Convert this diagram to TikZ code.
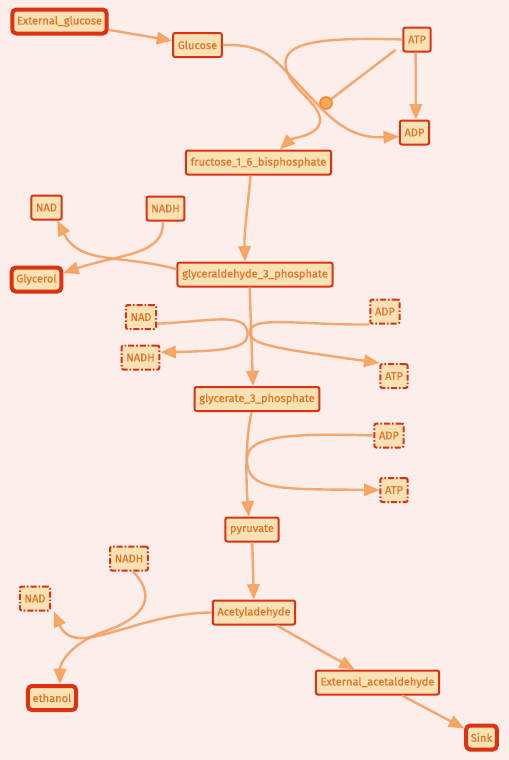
\documentclass[tikz,border=0pt]{standalone}
\usepackage{fontspec}
\setmainfont{Fira Sans}
\newfontfamily\nodefont{Fira Sans}[FakeBold=0.6]
\usetikzlibrary{arrows.meta}
\definecolor{bgcol}{HTML}{FCEEEB}
\definecolor{nodefill}{HTML}{FAE2B5}
\definecolor{bordercol}{HTML}{DC3212}
\definecolor{textcol}{HTML}{DF7428}
\definecolor{edgecol}{HTML}{F5A062}
\definecolor{tipfill}{HTML}{F8A860}
\definecolor{tipdraw}{HTML}{F08A30}
\tikzset{
  species/.style={draw=bordercol, fill=nodefill, text=textcol, font=\nodefont\fontsize{8.3}{9}\selectfont,
    rounded corners=1.5pt, line width=1.5pt, minimum height=18pt, inner xsep=3.5pt, inner ysep=2pt},
  bigbox/.style={species, line width=3pt, rounded corners=3pt},
  dashbox/.style={species, dash pattern=on 4.5pt off 1.5pt on 1.2pt off 1.5pt},
  flow/.style={draw=edgecol, line width=1.8pt, draw opacity=0.9,
    -{Triangle[length=11.5pt,width=9.5pt,fill=tipfill,line width=1pt]}},
  plain/.style={draw=edgecol, line width=1.8pt, draw opacity=0.9},
  rxn/.style={circle, draw=tipdraw, fill=tipfill, line width=1.2pt, minimum size=9pt, inner sep=0pt}
}
\begin{document}
\begin{tikzpicture}[x=0.75pt,y=-0.75pt]
\fill[bgcol] (0,0) rectangle (509,760);
\useasboundingbox (0,0) rectangle (509,760);

% nodes
\node[bigbox] (extg) at (59.5,21.5) {External\_glucose};
\node[species] (glc) at (197.5,45) {Glucose};
\node[species] (atpa) at (417,39.5) {ATP};
\node[species] (adpa) at (414.5,132.5) {ADP};
\node[species] (fru) at (258.5,162.5) {fructose\_1\_6\_bisphosphate};
\node[species] (nada) at (46.5,207.5) {NAD};
\node[species] (nadha) at (165.5,208.5) {NADH};
\node[bigbox] (glyc) at (36.5,279.5) {Glycerol};
\node[species] (gap) at (255,274.5) {glyceraldehyde\_3\_phosphate};
\node[dashbox] (nadb) at (141,317) {NAD};
\node[dashbox] (adpb) at (385,311.5) {ADP};
\node[dashbox] (nadhb) at (140.5,357.5) {NADH};
\node[dashbox] (atpb) at (394,376) {ATP};
\node[species] (g3p) at (257,399) {glycerate\_3\_phosphate};
\node[dashbox] (adpc) at (389,435.5) {ADP};
\node[dashbox] (atpc) at (394,490) {ATP};
\node[species] (pyr) at (252,529.5) {pyruvate};
\node[dashbox] (nadhc) at (129,558.5) {NADH};
\node[dashbox] (nadc) at (35,598.5) {NAD};
\node[species] (acet) at (254,612.5) {Acetyladehyde};
\node[bigbox] (eth) at (52,698) {ethanol};
\node[species] (exta) at (377.5,682.5) {External\_acetaldehyde};
\node[bigbox] (sink) at (481.5,737.5) {Sink};
\node[rxn] (r1) at (326,103) {};

% edges
\draw[flow] (extg) -- (glc);
\draw[flow] (glc.east) .. controls (265,44) and (272,57) .. (300,86)
  .. controls (326,113) and (345,139) .. ([yshift=-3pt]adpa.west);
\draw[flow] (atpa.west) .. controls (320,37) and (280,42) .. (286,68)
  .. controls (291,90) and (322,104) .. (320,122)
  .. controls (318,136) and (292,138) .. ([xshift=16pt]fru.north);
\draw[plain] (r1) -- ([xshift=-5pt,yshift=2pt]atpa.south west);
\draw[flow] ([xshift=-1pt]atpa.south) -- ([xshift=1pt]adpa.north);

\draw[flow] ([xshift=-6pt]fru.south) .. controls (248,205) and (244,232) .. ([xshift=-7.5pt]gap.north);
\draw[flow] ([yshift=4pt]gap.west) .. controls (120,254) and (80,265) .. ([xshift=8pt]nada.south);
\draw[flow] ([xshift=-2pt]nadha.south) .. controls (165,255) and (120,254) .. ([yshift=5pt]glyc.east);

\draw[flow] ([xshift=-4pt]gap.south) -- ([xshift=-3pt]g3p.north);
\draw[flow] ([yshift=-5pt]nadb.east) .. controls (205,322) and (242,312) .. (247,330)
  .. controls (251,346) and (235,351) .. ([yshift=4pt]nadhb.east);
\draw[flow] (adpb.south west) .. controls (300,325) and (255,316) .. (250,330)
  .. controls (246,345) and (275,348) .. (atpb.north west);

\draw[flow] ([xshift=-4pt]g3p.south) .. controls (245,440) and (246,480) .. ([xshift=-2.5pt]pyr.north);
\draw[flow] (adpc.west) .. controls (270,432) and (247,440) .. (247,460)
  .. controls (247,491) and (280,489) .. (atpc.west);

\draw[flow] (pyr) -- (acet);
\draw[flow] (acet.west) .. controls (135,613) and (75,660) .. ([xshift=2pt]nadc.south east);
\draw[flow] ([xshift=3pt]nadhc.south) .. controls (160,600) and (140,620) .. (100,633)
  .. controls (72,644) and (60,662) .. ([xshift=6pt]eth.north);
\draw[flow] (acet) -- (exta);
\draw[flow] (exta) -- (sink);
\end{tikzpicture}
\end{document}
